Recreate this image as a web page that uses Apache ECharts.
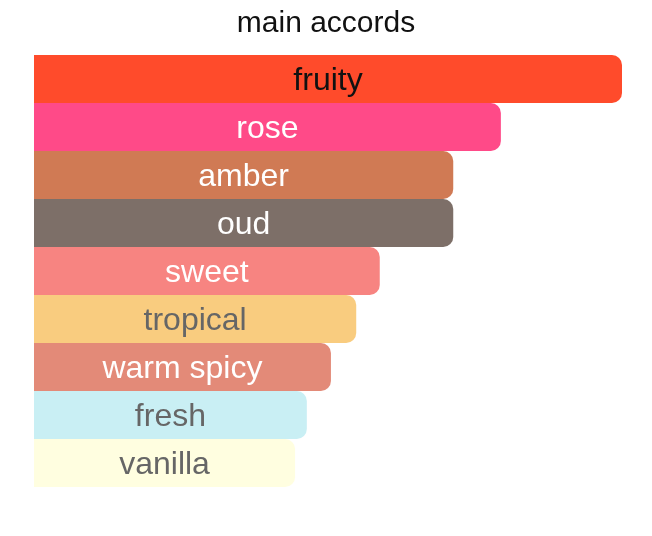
<!DOCTYPE html>
<html>
<head>
<meta charset="utf-8">
<script src="https://cdn.jsdelivr.net/npm/echarts@6/dist/echarts.min.js"></script>
<style>
html,body{margin:0;padding:0;background:#fff;}
#chart{width:652px;height:536px;}
</style>
</head>
<body>
<div id="chart"></div>
<script>
const categories = ['fruity','rose','amber','oud','sweet','tropical','warm spicy','fresh','vanilla'];
const values = [100, 79.4, 71.3, 71.3, 58.8, 54.8, 50.5, 46.4, 44.4];
const barColors = ['#FF4B2B','#FF4A88','#D07A54','#7D6F68','#F78481','#F9CC7F','#E38A78','#C9EFF4','#FFFEE0'];
const labelColors = ['#111111','#ffffff','#ffffff','#ffffff','#ffffff','#666666','#ffffff','#666666','#666666'];

const chart = echarts.init(document.getElementById('chart'));
chart.setOption({
  backgroundColor: '#ffffff',
  animation: false,
  title: {
    text: 'main accords',
    left: 'center',
    top: 4,
    textStyle: { fontFamily: 'Liberation Sans, Arial, sans-serif', fontSize: 30, fontWeight: 'normal', color: '#111' }
  },
  grid: { left: 34, right: 30, top: 55, height: 432, containLabel: false },
  xAxis: { type: 'value', min: 0, max: 100, show: false },
  yAxis: { type: 'category', data: categories, inverse: true, show: false },
  series: [{
    type: 'bar',
    barCategoryGap: 0,
    data: values.map((v, i) => ({
      value: v,
      itemStyle: { color: barColors[i], borderRadius: [0, 10, 10, 0] },
      label: { color: labelColors[i] }
    })),
    label: {
      show: true,
      position: 'inside',
      offset: [0, 2],
      formatter: p => categories[p.dataIndex],
      fontFamily: 'Liberation Sans, Arial, sans-serif',
      fontSize: 32
    }
  }]
});
</script>
</body>
</html>
